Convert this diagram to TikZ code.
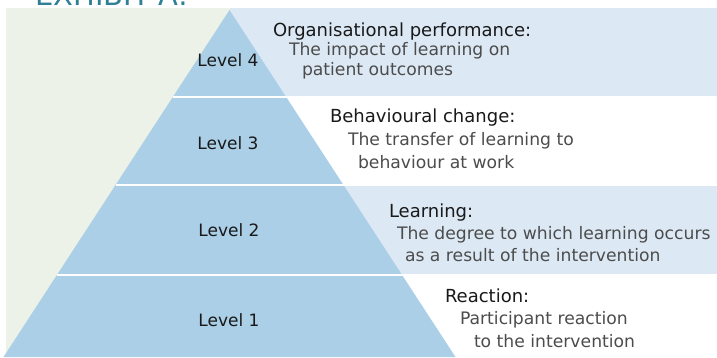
\documentclass[tikz,border=0pt]{standalone}
\usepackage{fontspec}
\setmainfont{DejaVu Sans}
\definecolor{tierblue}{HTML}{ABCFE7}
\definecolor{bandblue}{HTML}{DCE9F5}
\definecolor{sidegreen}{HTML}{ECF2E7}
\definecolor{exhibit}{HTML}{2F7F97}
\begin{document}
\begin{tikzpicture}[x=1pt,y=-1pt]
	\tikzstyle{every node}=[inner sep=0pt,outer sep=0pt]
	\tikzstyle{tier}=[font=\fontsize{17}{20}\selectfont,text=black!90]
	\tikzstyle{heading}=[anchor=base west,font=\fontsize{18}{20}\selectfont,text=black!90]
	\tikzstyle{blurb}=[anchor=base west,font=\fontsize{17.2}{20}\selectfont,text=black!70]
	\useasboundingbox (0,0) rectangle (717,357);
	% title, only its lower part shows
	\node[anchor=base west,font=\fontsize{29}{30}\selectfont,text=exhibit] (title) at (35,5) {EXHIBIT A:};
	% panel behind the pyramid
	\fill[sidegreen] (6,8) rectangle (229.5,357);
	\fill[bandblue] (229.5,8) rectangle (717,97);
	\fill[bandblue] (229.5,185) rectangle (717,275);
	% the pyramid and its tiers
	\coordinate (apex) at (229.5,10);
	\fill[tierblue] (apex) -- (455.5,357) -- (3.5,357) -- cycle;
	\foreach \y in {97,185,275}
		\draw[white,line width=2.5pt] ({229.5-0.65*(\y-10)},\y) -- (717,\y);
	\node[tier] (lvl4) at (228,60) {Level 4};
	\node[tier] (lvl3) at (228,143) {Level 3};
	\node[tier] (lvl2) at (229,230) {Level 2};
	\node[tier] (lvl1) at (229,320) {Level 1};
	% what each level measures
	\node[heading] (org) at (273,36) {Organisational performance:};
	\node[blurb] (org a) at (289,55) {The impact of learning on};
	\node[blurb] (org b) at (302,75) {patient outcomes};
	\node[heading] (beh) at (330,122) {Behavioural change:};
	\node[blurb] (beh a) at (348,145) {The transfer of learning to};
	\node[blurb] (beh b) at (358,168) {behaviour at work};
	\node[heading] (lrn) at (389,217) {Learning:};
	\node[blurb] (lrn a) at (397,239) {The degree to which learning occurs};
	\node[blurb] (lrn b) at (405,261) {as a result of the intervention};
	\node[heading] (rea) at (445,302) {Reaction:};
	\node[blurb] (rea a) at (460,324) {Participant reaction};
	\node[blurb] (rea b) at (474,347) {to the intervention};
\end{tikzpicture}
\end{document}
